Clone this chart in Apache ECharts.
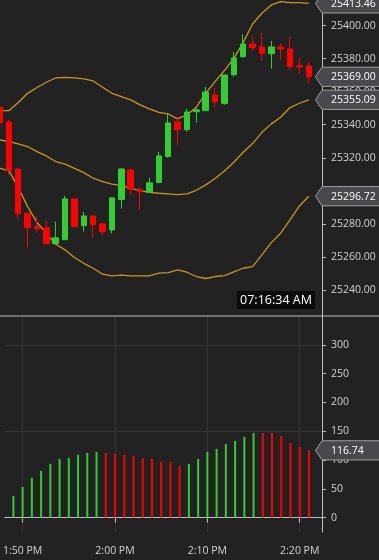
<!DOCTYPE html>
<html><head><meta charset="utf-8">
<script src="https://cdn.jsdelivr.net/npm/echarts@6/dist/echarts.min.js"></script>
<style>html,body{margin:0;padding:0;background:#222222;}#c{width:379px;height:560px;}</style>
</head><body><div id="c"></div>
<script>
// ---- data ----
const times = ['13:48','13:49','13:50','13:51','13:52','13:53','13:54','13:55','13:56','13:57','13:58','13:59',
  '14:00','14:01','14:02','14:03','14:04','14:05','14:06','14:07','14:08','14:09','14:10','14:11','14:12','14:13',
  '14:14','14:15','14:16','14:17','14:18','14:19','14:20','14:21'];
const opens  = [25350.6,25341.7,25313.2,25286.4,25278.3,25277.5,25268.0,25270.4,25295.1,25278.9,25284.8,25280.0,
  25276.3,25294.7,25312.6,25300.7,25299.1,25305.0,25320.7,25341.7,25337.0,25347.9,25348.5,25358.0,25352.8,25370.3,
  25381.2,25388.9,25387.1,25383.0,25387.1,25385.9,25375.8,25375.6];
const closes = [25341.3,25312.2,25286.2,25277.7,25277.1,25268.0,25271.5,25295.1,25278.3,25284.8,25279.5,25275.3,
  25295.7,25313.2,25301.1,25299.5,25304.8,25321.1,25341.1,25337.0,25347.7,25349.0,25359.8,25354.0,25370.1,25380.4,
  25388.9,25386.7,25383.0,25387.1,25385.9,25375.2,25375.0,25369.00];
const lows   = [25340.5,25309.6,25283.2,25265.6,25274.7,25268.0,25268.0,25270.4,25278.3,25275.3,25271.7,25272.9,
  25274.1,25289.2,25297.1,25288.6,25299.1,25305.0,25320.1,25328.0,25335.8,25341.3,25348.5,25350.3,25352.2,25369.1,
  25380.6,25384.7,25378.8,25374.0,25379.2,25373.3,25370.9,25364.9];
const highs  = [25351.5,25342.9,25313.2,25286.4,25284.8,25281.8,25281.3,25296.9,25295.1,25287.2,25284.8,25280.0,
  25295.7,25313.8,25313.2,25302.3,25307.8,25323.5,25347.0,25344.9,25349.6,25350.0,25362.9,25362.3,25370.1,25384.1,
  25394.9,25393.7,25395.6,25390.7,25388.9,25393.1,25380.4,25378.0];
const bbUpper = [25348.5,25348.5,25353.4,25359.0,25362.5,25365.7,25368.3,25368.7,25368.3,25367.7,25366.5,25362.7,
  25359.0,25357.0,25355.0,25352.0,25349.6,25347.5,25346.5,25343.5,25345.9,25350.6,25359.0,25366.1,25372.8,25380.2,
  25389.7,25401.0,25407.5,25412.5,25414.5,25413.9,25413.9,25413.46];
const bbMiddle = [25330.8,25329.8,25328.4,25326.8,25323.7,25321.1,25317.7,25316.1,25313.6,25311.0,25307.6,25305.6,
  25304.0,25303.1,25301.5,25300.1,25299.1,25298.5,25298.1,25297.7,25298.1,25300.3,25303.6,25307.4,25312.0,25317.3,
  25323.3,25328.6,25335.4,25340.5,25344.5,25350.4,25353.0,25355.09];
const bbLower = [25313.6,25312.2,25302.1,25290.4,25280.8,25274.3,25267.6,25264.2,25259.6,25256.1,25253.1,25249.5,
  25248.5,25248.9,25248.5,25248.5,25248.5,25250.1,25250.5,25252.1,25250.7,25248.1,25246.9,25248.1,25248.7,25250.9,
  25253.1,25254.1,25261.2,25268.6,25274.3,25282.4,25290.8,25296.72];
const volume = [null,37.6,53.3,68.9,81.1,93.2,101.9,103.6,108.9,112.3,114.1,112.3,110.6,108.9,107.1,103.6,101.9,
  96.7,96.7,89.7,93.2,101.9,114.1,119.3,128.0,133.2,140.1,147.1,147.1,147.1,141.9,129.7,122.8,116.74];
const volumeDir = [0,1,1,1,1,1,1,1,1,1,1,-1,-1,-1,-1,-1,-1,-1,-1,-1,1,1,1,1,1,1,1,1,-1,-1,-1,-1,-1,-1];
const clockText = '07:16:34 AM';

// ---- build ----
const UP = '#32CD32', DOWN = '#FF0000', BAND = '#C8961E';
const AXIS = '#bdbdbd', LABEL = '#d2d2d2', FONT = '"Open Sans", "Noto Sans", sans-serif';
const FS = 10.5;
const toMin = t => { const p = t.split(':').map(Number); return p[0] * 60 + p[1]; };
const xs = times.map(toMin);
const last = xs[xs.length - 1];
const fmtTime = v => { const h = Math.floor(v / 60), m = Math.round(v % 60); const hh = h > 12 ? h - 12 : h;
  return hh + ':' + String(m).padStart(2, '0') + (h >= 12 ? ' PM' : ' AM'); };
const xMin = 828.054, xMax = 862.41;

function tagRender(params, api) {
  const pt = api.coord([api.value(0), api.value(1)]);
  const cs = params.coordSys;
  const gx = cs.x + cs.width, y = pt[1], h = 9.6, W = api.getWidth();
  return { type: 'group', children: [
    { type: 'polygon', shape: { points: [[gx - 6.5, y], [gx, y - h], [W + 2, y - h], [W + 2, y + h], [gx, y + h]] },
      style: { fill: '#48484d', stroke: '#a0a0a0', lineWidth: 1 } },
    { type: 'text', style: { text: api.value(1).toFixed(2), x: gx + 9, y: y + 0.5, verticalAlign: 'middle',
      fill: '#ffffff', font: FS + 'px ' + FONT } }
  ]};
}

const chart = echarts.init(document.getElementById('c'), null, { renderer: 'canvas' });
chart.setOption({
  backgroundColor: '#222222',
  animation: false,
  grid: [
    { left: -1, right: 57, top: 0, height: 315.5 },
    { left: -1, right: 57, top: 316, height: 216 }
  ],
  xAxis: [
    { type: 'value', gridIndex: 0, min: xMin, max: xMax, show: false },
    { type: 'value', gridIndex: 1, min: xMin, max: xMax, minInterval: 10, maxInterval: 10,
      axisLine: { show: true, lineStyle: { color: AXIS } },
      axisTick: { show: true, length: 5, lineStyle: { color: AXIS } },
      axisLabel: { color: LABEL, fontSize: FS, fontFamily: FONT, margin: 14, formatter: fmtTime,
        showMinLabel: false, showMaxLabel: false },
      splitLine: { show: true, showMinLine: false, showMaxLine: false, lineStyle: { color: '#353535' } } }
  ],
  yAxis: [
    { type: 'value', gridIndex: 0, position: 'right', min: 25224.5, max: 25415.5, minInterval: 20, maxInterval: 20,
      axisLine: { show: true, lineStyle: { color: AXIS } },
      axisTick: { show: true, length: 4, lineStyle: { color: AXIS } },
      axisLabel: { color: LABEL, fontSize: FS, fontFamily: FONT, margin: 9, formatter: v => v.toFixed(2),
        showMinLabel: false, showMaxLabel: false },
      splitLine: { show: false } },
    { type: 'value', gridIndex: 1, position: 'right', min: -25, max: 350, minInterval: 50, maxInterval: 50,
      axisLine: { show: true, lineStyle: { color: AXIS } },
      axisTick: { show: true, length: 4, lineStyle: { color: AXIS } },
      axisLabel: { color: LABEL, fontSize: FS, fontFamily: FONT, margin: 9,
        showMinLabel: false, showMaxLabel: false },
      splitLine: { show: false } },
    { type: 'value', gridIndex: 1, position: 'right', min: -25, max: 350, minInterval: 150, maxInterval: 150,
      axisLine: { show: false }, axisTick: { show: false }, axisLabel: { show: false },
      splitLine: { show: true, showMinLine: false, showMaxLine: false, lineStyle: { color: '#353535' } } }
  ],
  series: [
    { type: 'line', xAxisIndex: 0, yAxisIndex: 0, data: xs.map((x, i) => [x, bbUpper[i]]), symbol: 'none',
      lineStyle: { color: BAND, width: 1.3 }, z: 1 },
    { type: 'line', xAxisIndex: 0, yAxisIndex: 0, data: xs.map((x, i) => [x, bbMiddle[i]]), symbol: 'none',
      lineStyle: { color: BAND, width: 1.3 }, z: 1 },
    { type: 'line', xAxisIndex: 0, yAxisIndex: 0, data: xs.map((x, i) => [x, bbLower[i]]), symbol: 'none',
      lineStyle: { color: BAND, width: 1.3 }, z: 1 },
    { type: 'candlestick', xAxisIndex: 0, yAxisIndex: 0, barWidth: 6, z: 2,
      encode: { x: 0, y: [1, 2, 3, 4] },
      data: xs.map((x, i) => [x, opens[i], closes[i], lows[i], highs[i]]),
      itemStyle: { color: UP, color0: DOWN, borderColor: UP, borderColor0: DOWN, borderWidth: 1 } },
    { type: 'bar', xAxisIndex: 1, yAxisIndex: 1, barWidth: 2,
      data: xs.map((x, i) => ({ value: [x, volume[i]], itemStyle: { color: volumeDir[i] > 0 ? UP : DOWN } })) },
    { type: 'custom', xAxisIndex: 0, yAxisIndex: 0, renderItem: tagRender, clip: false, z: 10,
      data: [[last, bbUpper[bbUpper.length - 1]], [last, closes[closes.length - 1]],
             [last, bbMiddle[bbMiddle.length - 1]], [last, bbLower[bbLower.length - 1]]] },
    { type: 'custom', xAxisIndex: 1, yAxisIndex: 1, renderItem: tagRender, clip: false, z: 10,
      data: [[last, volume[volume.length - 1]]] }
  ],
  graphic: [
    { type: 'line', shape: { x1: 0, y1: 316, x2: 379, y2: 316 }, style: { stroke: AXIS, lineWidth: 1 }, z: 20 },
    { type: 'rect', shape: { x: 237, y: 291, width: 78, height: 18 }, style: { fill: '#0b0b0b' }, z: 20 },
    { type: 'text', x: 276, y: 300.5, style: { text: clockText, fill: '#ffffff', font: '12.5px ' + FONT,
      align: 'center', verticalAlign: 'middle' }, z: 21 }
  ]
});
</script></body></html>
